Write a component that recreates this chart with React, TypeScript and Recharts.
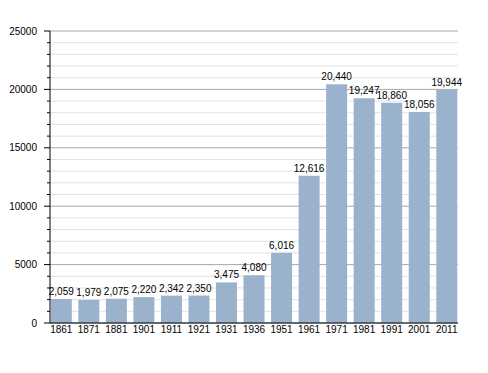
import React from "react";
import { BarChart, Bar, XAxis, YAxis, CartesianGrid, LabelList } from "recharts";

// census years
const years = ["1861", "1871", "1881", "1901", "1911", "1921", "1931", "1936", "1951", "1961", "1971", "1981", "1991", "2001", "2011"];
// population
const population = [2059, 1979, 2075, 2220, 2342, 2350, 3475, 4080, 6016, 12616, 20440, 19247, 18860, 18056, 19944];
// y ticks: every 1000, labelled every 5000
const yTicks = [0, 1000, 2000, 3000, 4000, 5000, 6000, 7000, 8000, 9000, 10000, 11000, 12000, 13000, 14000, 15000, 16000, 17000, 18000, 19000, 20000, 21000, 22000, 23000, 24000, 25000];

const data = years.map((year, i) => ({ year, value: population[i] }));

const FONT = "'Liberation Sans', Arial, Helvetica, sans-serif";

const YTick = (props: any) => {
  const { x, y, payload } = props;
  const major = payload.value % 5000 === 0;
  return (
    <g>
      <line x1={x - (major ? 6 : 3)} x2={x} y1={y} y2={y} stroke="#000" />
      {major && (
        <text x={x - 13} y={y} dy="0.35em" textAnchor="end" fontSize={10} fontFamily={FONT} fill="#000">
          {payload.value}
        </text>
      )}
    </g>
  );
};

const gridLine = (p: any) => (
  <line
    key={p.key}
    x1={p.x1}
    y1={p.y1}
    x2={p.x2}
    y2={p.y2}
    stroke={p.index % 5 === 0 ? "#a8a8a8" : "#e2e2e2"}
    strokeWidth={1}
  />
);

export default function App() {
  return (
    <div style={{ position: "absolute", left: 0, top: 0, background: "#fff" }}>
      <BarChart
        width={488}
        height={373}
        data={data}
        margin={{ top: 31, right: 30, bottom: 20, left: 0 }}
        barCategoryGap="12%"
      >
        <CartesianGrid vertical={false} horizontal={gridLine} />
        <XAxis
          dataKey="year"
          interval={0}
          tickLine={false}
          tickSize={0}
          tickMargin={3}
          height={30}
          padding={{ left: -2.5, right: -2.5 }}
          axisLine={{ stroke: "#000" }}
          tick={{ fontSize: 10, fill: "#000", fontFamily: FONT }}
        />
        <YAxis
          width={50}
          domain={[0, 25000]}
          ticks={yTicks}
          interval={0}
          tickLine={false}
          tickSize={0}
          tickMargin={0}
          axisLine={{ stroke: "#000" }}
          tick={<YTick />}
        />
        <Bar dataKey="value" fill="#9ab2cc" isAnimationActive={false}>
          <LabelList
            dataKey="value"
            position="top"
            offset={4}
            fill="#000"
            fontSize={10}
            fontFamily={FONT}
            formatter={(v: any) => Number(v).toLocaleString("en-US")}
          />
        </Bar>
      </BarChart>
    </div>
  );
}
